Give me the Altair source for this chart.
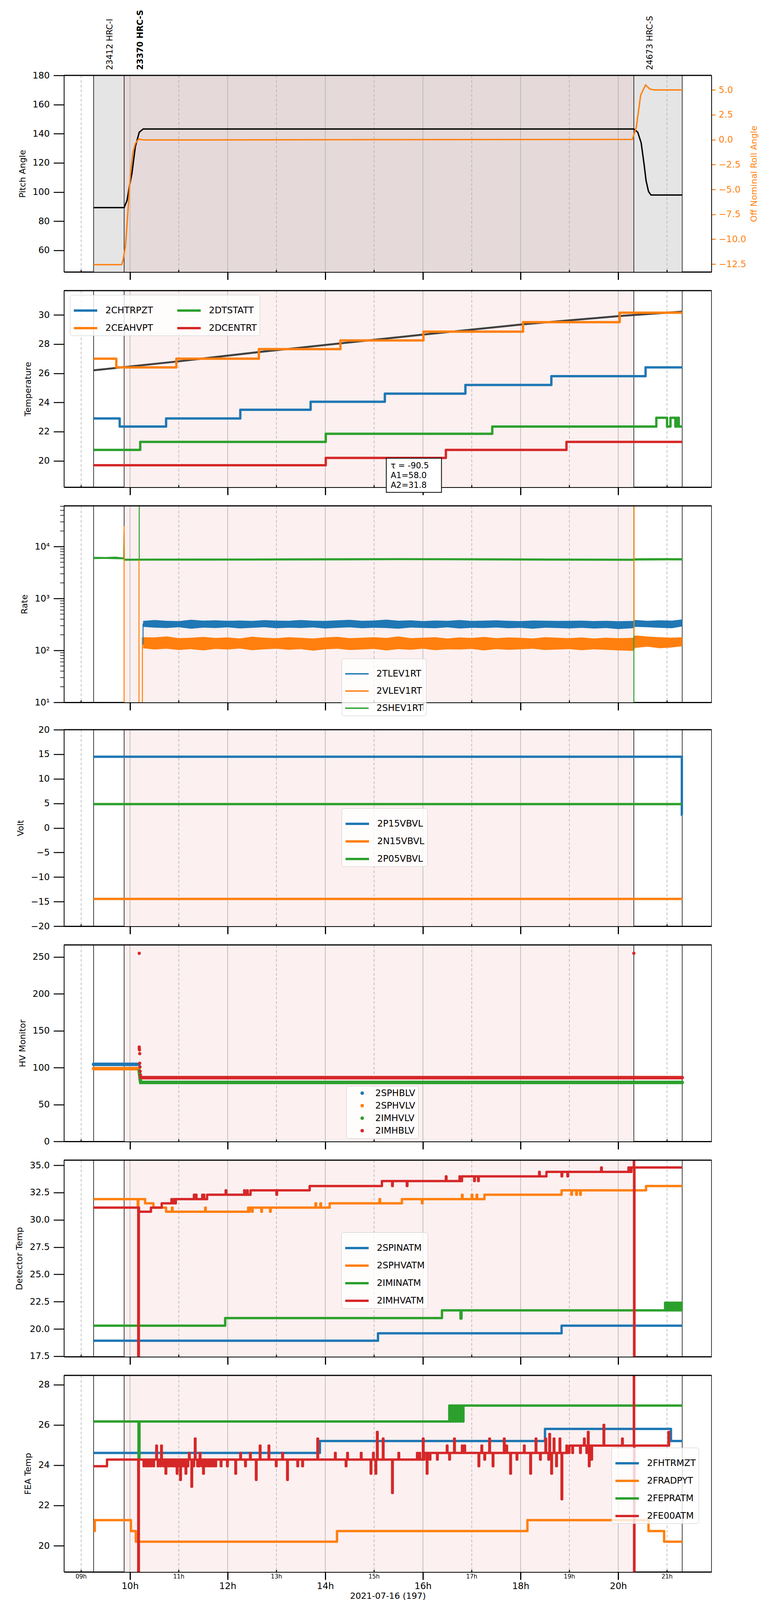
import altair as alt
import pandas as pd

# ------------------------------------------------------------------ data
x_domain = [8.65, 21.91]
major_hours = [10, 12, 14, 16, 18, 20]
minor_hours = [9, 11, 13, 15, 17, 19, 21]
date_label = "2021-07-16 (197)"

obs_start = [9.255, 9.88, 20.32]
obs_stop = [9.88, 20.32, 21.31]
obs_name = ["23412 HRC-I", "23370 HRC-S", "24673 HRC-S"]
obs_bold = [False, True, False]
obs_shade = ["#e5e5e5", "#e5d9d9", "#e5e5e5"]

# panel 1 : attitude
pitch_t = [9.255, 9.88, 9.94, 9.99, 10.04, 10.11, 10.19, 10.27, 20.32, 20.40, 20.47, 20.53, 20.57, 20.62, 20.67, 21.31]
pitch_v = [89.3, 89.3, 94.2, 104.0, 112.7, 131.0, 141.0, 143.2, 143.2, 141.0, 133.7, 118.9, 107.8, 100.4, 97.9, 97.9]
roll_t = [9.255, 9.83, 9.86, 9.91, 9.96, 10.01, 10.06, 10.11, 10.18, 10.27, 15.0, 20.29, 20.37, 20.46, 20.56, 20.65, 20.74, 21.31]
roll_v = [-12.55, -12.55, -12.06, -10.6, -7.1, -3.5, -1.3, -0.38, 0.07, -0.03, 0.0, 0.03, 1.25, 4.48, 5.5, 5.08, 5.0, 5.0]

# panel 2 : temperatures
t_chtrpzt = [9.255, 9.79, 10.74, 12.26, 13.70, 15.22, 16.87, 18.63, 20.56, 21.31]
v_chtrpzt = [22.9, 22.35, 22.9, 23.5, 24.05, 24.6, 25.2, 25.8, 26.4, 26.4]
t_ceahvpt = [9.255, 9.72, 10.95, 12.64, 14.31, 16.01, 18.05, 20.03, 21.31]
v_ceahvpt = [27.0, 26.4, 27.0, 27.65, 28.25, 28.85, 29.5, 30.15, 30.15]
t_dtstatt = [9.255, 10.21, 14.01, 17.42, 20.78, 21.0, 21.07, 21.17, 21.2, 21.24, 21.31]
v_dtstatt = [20.75, 21.3, 21.85, 22.35, 22.95, 22.35, 22.95, 22.35, 22.95, 22.35, 22.35]
t_dcentrt = [9.255, 14.01, 16.47, 18.94, 21.31]
v_dcentrt = [19.7, 20.2, 20.75, 21.3, 21.3]
fit_t = [9.255, 10.95, 12.64, 14.31, 16.01, 18.05, 20.03, 21.31]
fit_v = [26.2, 26.8, 27.45, 28.05, 28.65, 29.35, 29.92, 30.22]
fit_text = "\u03c4 = -90.5\nA1=58.0\nA2=31.8"
fit_box_x = [15.25, 16.38]
fit_box_y = [20.18, 17.84]
fit_text_pos = [15.34, 19.95]

# panel 3 : rates (noise envelopes)
rate_t = [10.27, 10.5, 10.75, 11.0, 11.25, 11.5, 11.75, 12.0, 12.25, 12.5, 12.75, 13.0, 13.25, 13.5, 13.75, 14.0,
          14.25, 14.5, 14.75, 15.0, 15.25, 15.5, 15.75, 16.0, 16.25, 16.5, 16.75, 17.0, 17.25, 17.5, 17.75, 18.0,
          18.25, 18.5, 18.75, 19.0, 19.25, 19.5, 19.75, 20.0, 20.3, 20.35, 20.6, 20.85, 21.1, 21.31]
tlev_lo = [285, 275, 270, 280, 262, 275, 270, 278, 266, 272, 280, 268, 274, 270, 277, 265, 272, 279, 268, 274, 270,
           262, 276, 271, 268, 279, 264, 272, 270, 276, 268, 273, 262, 274, 270, 266, 272, 264, 270, 258, 268, 285,
           280, 272, 268, 290]
tlev_hi = [370, 385, 372, 368, 390, 375, 380, 372, 378, 370, 384, 376, 372, 386, 374, 370, 380, 388, 372, 378, 392,
           374, 380, 368, 378, 372, 386, 370, 376, 380, 372, 368, 378, 374, 370, 372, 376, 368, 372, 366, 370, 385,
           372, 380, 376, 395]
vlev_lo = [110, 104, 108, 102, 106, 100, 107, 104, 109, 101, 105, 108, 103, 106, 99, 105, 108, 102, 104, 107, 100,
           106, 103, 108, 101, 105, 104, 107, 100, 106, 103, 105, 108, 102, 104, 106, 101, 105, 103, 100, 98, 112,
           118, 110, 114, 120]
vlev_hi = [180, 178, 186, 172, 176, 182, 174, 178, 170, 184, 176, 172, 180, 175, 170, 178, 183, 172, 176, 180, 174,
           186, 172, 176, 180, 170, 178, 174, 182, 172, 178, 175, 170, 180, 176, 172, 178, 170, 176, 172, 175, 195,
           185, 180, 176, 180]
shev_t = [9.255, 9.5, 9.7, 9.87, 9.89, 10.5, 11.5, 12.5, 13.5, 14.5, 15.5, 16.5, 17.5, 18.5, 19.5, 20.3, 20.34, 21.0, 21.31]
shev_lo = [5750, 5800, 5720, 5700, 5350, 5380, 5360, 5400, 5420, 5450, 5480, 5460, 5420, 5380, 5350, 5320, 5400, 5450, 5420]
shev_hi = [6350, 6300, 6400, 6200, 5850, 5880, 5900, 5900, 5950, 5980, 6000, 5980, 5950, 5900, 5880, 5850, 5950, 6000, 5980]
rate_spike_series = ["2SHEV1RT"] * 7 + ["2VLEV1RT"] * 8 + ["2TLEV1RT"] * 2
rate_spike_seg = [1, 1, 1, 2, 2, 3, 3, 4, 4, 5, 5, 6, 6, 7, 7, 8, 8]
rate_spike_t = [9.87, 9.88, 9.885, 10.19, 10.19, 20.32, 20.32, 9.88, 9.88, 10.185, 10.185, 10.255, 10.255,
                20.323, 20.323, 10.268, 10.268]
rate_spike_v = [5900, 20000, 5600, 5600, 1e6, 1, 1e6, 1, 25000, 1, 5600, 1, 180, 200, 1e6, 130, 330]
rate_minor = [20, 30, 40, 50, 60, 70, 80, 90, 200, 300, 400, 500, 600, 700, 800, 900,
              2000, 3000, 4000, 5000, 6000, 7000, 8000, 9000, 20000, 30000, 40000, 50000, 60000]

# panel 4 : voltages
t_p15 = [9.255, 21.303, 21.31]
v_p15 = [14.5, 2.7, 2.7]
t_n15 = [9.255, 21.31]
v_n15 = [-14.45, -14.45]
t_p05 = [9.255, 21.31]
v_p05 = [4.85, 4.85]

# panel 5 : HV monitors
t_sphblv = [9.255, 10.18]
v_sphblv = [104.5, 104.5]
t_sphvlv = [9.255, 10.18]
v_sphvlv = [98.7, 98.7]
t_imhvlv = [10.19, 10.2, 10.21, 10.22, 21.31]
v_imhvlv = [96, 90, 84, 80, 80]
t_imhblv = [10.22, 21.31]
v_imhblv = [86.5, 86.5]
t_imhblv_out = [10.19, 10.19, 10.19, 10.195, 10.2, 10.2, 10.205, 10.21, 10.215, 20.32]
v_imhblv_out = [255, 128, 126, 124, 119, 106, 101, 95, 90, 255]

# panel 6 : detector temps (base levels + short excursions)
t_spinatm = [9.255, 15.08, 18.84, 21.31]
v_spinatm = [18.92, 19.6, 20.3, 20.3]
t_sphvatm = [9.255, 10.31, 10.48, 10.74, 12.42, 14.09, 15.57, 17.26, 18.84, 20.57, 21.31]
v_sphvatm = [31.9, 31.51, 31.12, 30.74, 31.12, 31.51, 31.9, 32.3, 32.7, 33.1, 33.1]
sp_t_sphvatm = [10.16, 10.86, 11.54, 12.44, 12.5, 12.69, 12.87, 13.8, 13.9, 15.11, 15.98, 16.8, 17.0, 17.1, 19.04, 19.14, 19.22]
sp_v_sphvatm = [31.12, 31.12, 31.12, 30.74, 30.74, 30.74, 30.74, 31.51, 31.51, 31.9, 31.51, 32.3, 32.3, 32.3, 32.3, 32.3, 32.3]
t_iminatm = [9.255, 11.95, 16.39, 21.31]
v_iminatm = [20.3, 21.0, 21.7, 21.7]
sp_t_iminatm = [16.77, 20.96, 21.0, 21.04, 21.08, 21.12, 21.16, 21.2, 21.24, 21.28]
sp_v_iminatm = [20.95, 22.4, 22.4, 22.4, 22.4, 22.4, 22.4, 22.4, 22.4, 22.4]
t_imhvatm = [9.255, 10.185, 10.43, 10.65, 10.94, 11.58, 12.47, 13.68, 15.16, 16.8, 18.53, 20.27, 21.31]
v_imhvatm = [31.12, 30.74, 31.12, 31.51, 31.9, 32.3, 32.7, 33.1, 33.55, 33.98, 34.4, 34.8, 34.8]
sp_t_imhvatm = [10.17, 10.85, 10.9, 11.31, 11.35, 11.48, 11.51, 11.96, 12.34, 12.4, 13.0, 15.37, 15.67, 16.47,
                16.75, 17.05, 17.13, 18.38, 18.84, 18.96, 19.65, 20.21, 20.24, 20.32, 20.325]
sp_v_imhvatm = [10, 31.9, 31.9, 32.3, 32.3, 32.3, 32.3, 32.7, 32.7, 32.7, 32.3, 33.1, 33.1, 33.98, 33.98, 33.55,
                33.55, 34.4, 33.98, 33.98, 34.8, 34.8, 34.8, 40, 10]

# panel 7 : FEA temps
t_fhtrmzt = [9.255, 13.89, 18.5, 21.08, 21.31]
v_fhtrmzt = [24.61, 25.2, 25.8, 25.2, 25.2]
t_fradpyt = [9.255, 9.28, 10.02, 10.12, 14.24, 18.14, 20.62, 20.94, 21.31]
v_fradpyt = [20.73, 21.27, 20.73, 20.2, 20.73, 21.27, 20.73, 20.2, 20.2]
t_fepratm = [9.255, 16.54, 16.85, 21.31]
v_fepratm = [26.17, 26.96, 26.96, 26.96]
sp_t_fepratm = [10.175, 16.56, 16.61, 16.66, 16.71, 16.76, 16.81]
sp_v_fepratm = [24.3, 26.17, 26.17, 26.17, 26.17, 26.17, 26.17]
t_fe00atm = [9.255, 9.53, 16.03, 19.0, 21.06]
v_fe00atm = [23.95, 24.28, 24.61, 24.97, 24.97]
sp_t_fe00atm = [10.17, 10.28, 10.33, 10.38, 10.43, 10.48, 10.57, 10.62, 10.68, 10.78, 10.83, 10.88, 10.92, 11.0,
                11.07, 11.11, 11.18, 11.3, 11.38, 11.41, 11.47, 11.55, 11.6, 11.65, 11.7, 11.75,
                10.54, 10.64, 10.73, 10.96, 11.03, 11.14, 11.21, 11.26, 11.33, 11.43, 11.5,
                11.86, 11.99, 12.16, 12.26, 12.36, 12.46, 12.58, 12.66, 12.84, 12.99, 13.12, 13.22, 13.43, 13.53,
                13.84, 14.2, 14.42, 14.45, 14.73, 14.93, 14.98, 15.03, 15.06, 15.18, 15.37, 15.5, 15.88, 15.93, 16.0,
                16.08, 16.14, 16.29, 16.49, 16.54, 16.64, 16.8, 16.85, 17.14, 17.2, 17.26, 17.36, 17.43, 17.66,
                17.71, 17.79, 17.92, 18.07, 18.2, 18.31, 18.4, 18.51, 18.57, 18.59, 18.63, 18.68, 18.73, 18.8,
                18.84, 18.94, 19.06, 19.22, 19.3, 19.35, 19.38, 19.4, 19.45, 19.7, 20.08, 20.32, 20.325, 21.03]
sp_v_fe00atm = [18.0] + [23.95] * 25 + \
               [24.97, 24.97, 23.58, 23.58, 23.27, 23.58, 24.61, 22.93, 25.32, 24.61, 23.58,
                23.95, 23.95, 23.58, 24.61, 23.95, 24.61, 23.27, 24.97, 24.97, 23.95, 24.61, 23.27, 23.95, 23.95,
                25.32, 24.61, 23.95, 24.61, 24.61, 23.58, 24.61, 23.58, 25.65, 25.32, 22.62, 24.61, 24.61, 24.61, 25.32,
                23.58, 24.28, 24.28, 24.97, 24.28, 25.32, 24.97, 24.97, 23.95, 24.97, 24.28, 25.32, 23.95, 25.32,
                24.97, 23.58, 24.28, 24.97, 23.58, 25.32, 24.28, 25.32, 24.28, 25.55, 23.58, 25.32, 23.95, 25.32,
                22.31, 24.97, 24.61, 24.61, 25.32, 24.61, 25.65, 23.95, 24.28, 26.0, 25.32, 29.0, 18.0, 25.65]

# ------------------------------------------------------------------ style
# the photographed page is ~4096 px tall, so the vertical layout is compressed to fit it
W, H = 1658, 503
FONT = "DejaVu Sans"
FS = 23          # tick / legend text
FT = 22          # axis titles
C_BLUE, C_ORANGE, C_GREEN, C_RED = "#1f77b4", "#ff7f0e", "#2ca02c", "#d62728"
PINK = "#fcf0f0"
GRID = "#b0b0b0"
LW = 6
X_SCALE = alt.Scale(domain=x_domain, nice=False, zero=False)


def x_axis(bottom):
    kw = dict(values=major_hours, tickSize=20, tickWidth=3, tickColor="black", domainWidth=3,
              domainColor="black", grid=False, labels=bottom)
    if bottom:
        kw.update(title=date_label, labelFontSize=FS, labelPadding=5, labelExpr="datum.value + 'h'",
                  labelColor="black", titleFontSize=FT, titleFontWeight="normal", titlePadding=3,
                  titleColor="black", labelFont=FONT, titleFont=FONT)
    else:
        kw.update(title=None)
    return alt.Axis(**kw)


def make_X(bottom):
    ax = x_axis(bottom)

    def X(field):
        return alt.X(f"{field}:Q", scale=X_SCALE, axis=ax)
    return X


def make_Y(domain, values, title, log=False, fmt=None, label_expr=None):
    if log:
        sc = alt.Scale(domain=domain, nice=False, type="log")
    else:
        sc = alt.Scale(domain=domain, nice=False, zero=False)
    kw = dict(title=title, values=values, tickSize=27, tickWidth=2.5, tickColor="black", labelFontSize=FS,
              labelPadding=10, labelColor="black", domainWidth=1.5, domainColor="black", grid=False,
              titleFontSize=FT, titleFontWeight="normal", titlePadding=14, titleColor="black",
              labelFont=FONT, titleFont=FONT)
    if fmt:
        kw["format"] = fmt
    if label_expr:
        kw["labelExpr"] = label_expr
    ax = alt.Axis(**kw)

    def Y(field):
        return alt.Y(f"{field}:Q", scale=sc, axis=ax)
    return Y


def legend(x, y, sym="stroke", sw=6, size=3600, columns=None, row_pad=-28, sym_off=0, lab_off=18):
    kw = dict(orient="none", legendX=x, legendY=y, title=None, labelFontSize=FS, labelFont=FONT,
              labelColor="black", labelLimit=400, symbolType=sym, symbolSize=size, symbolStrokeWidth=sw,
              fillColor="rgba(255,255,255,0.8)", strokeColor="#cccccc", cornerRadius=5, padding=7,
              rowPadding=row_pad, labelOffset=lab_off, symbolOffset=sym_off)
    if columns:
        kw["columns"] = columns
        kw["columnPadding"] = 50
    return alt.Legend(**kw)


def step_df(names, ts, vs):
    rows = []
    for n, tt, vv in zip(names, ts, vs):
        for i, (t, v) in enumerate(zip(tt, vv)):
            rows.append({"series": n, "t": t, "v": v, "i": i})
    return pd.DataFrame(rows)


def with_spikes(base_t, base_v, sp_t, sp_v, width=0.012):
    def base_at(t):
        val = base_v[0]
        for bt, bv in zip(base_t, base_v):
            if bt <= t:
                val = bv
        return val
    pts = list(zip(base_t, base_v))
    for t, v in zip(sp_t, sp_v):
        pts.append((t, v))
        pts.append((t + width, base_at(t)))
    pts.sort(key=lambda p: p[0])
    return [p[0] for p in pts], [p[1] for p in pts]


obs_df = pd.DataFrame({"start": obs_start, "stop": obs_stop, "name": obs_name,
                       "bold": obs_bold, "shade": obs_shade})
edge_df = pd.DataFrame({"h": sorted(set(obs_start + obs_stop))})
major_df = pd.DataFrame({"h": major_hours})
minor_df = pd.DataFrame({"h": minor_hours})


def background(X, top_panel=False):
    if top_panel:
        shade = alt.Chart(obs_df).mark_rect().encode(x=X("start"), x2="stop",
                                                     fill=alt.Fill("shade:N", scale=None))
    else:
        shade = alt.Chart(obs_df[obs_df["bold"]]).mark_rect(color=PINK).encode(x=X("start"), x2="stop")
    g1 = alt.Chart(major_df).mark_rule(color=GRID, strokeWidth=1.5).encode(x=X("h"))
    g2 = alt.Chart(minor_df).mark_rule(color=GRID, strokeWidth=1.5, strokeDash=[7, 5]).encode(x=X("h"))
    edges = alt.Chart(edge_df).mark_rule(color="black", strokeWidth=1.5).encode(x=X("h"))
    return [shade, g1, g2, edges]


def front(X, bottom=False):
    top = alt.Chart(pd.DataFrame({"a": [0]})).mark_rule(color="black", strokeWidth=3).encode(
        x=alt.value(0), x2=alt.value(W), y=alt.value(0))
    mt = alt.Chart(minor_df).mark_rule(color="black", strokeWidth=2.5).encode(
        x=X("h"), y=alt.value(H - 5), y2=alt.value(H))
    out = [top, mt]
    if bottom:
        ml = alt.Chart(minor_df).transform_calculate(
            lab="(datum.h < 10 ? '0' : '') + datum.h + 'h'"
        ).mark_text(fontSize=15, baseline="top", font=FONT, color="black").encode(
            x=X("h"), y=alt.value(H + 5), text="lab:N")
        out.append(ml)
    return out


def panel(layers, X, bottom=False, top_panel=False, resolve_y=False):
    ch = alt.layer(*background(X, top_panel), *layers, *front(X, bottom)).properties(width=W, height=H)
    if resolve_y:
        ch = ch.resolve_scale(y="independent")
    return ch


MINUS = "replace(datum.label, '-', '\u2212')"

# ------------------------------------------------------------------ panel 1
X1 = make_X(False)
Yp = make_Y([45.2, 180], [60, 80, 100, 120, 140, 160, 180], "Pitch Angle")
roll_scale = alt.Scale(domain=[-13.28, 6.46], nice=False, zero=False)
roll_axis = alt.Axis(orient="right", title="Off Nominal Roll Angle", values=[-12.5, -10, -7.5, -5, -2.5, 0, 2.5, 5],
                     format=".1f", labelExpr=MINUS, tickSize=10, tickWidth=2.5, tickColor=C_ORANGE,
                     labelColor=C_ORANGE, labelFontSize=FS, labelPadding=8, titleColor=C_ORANGE,
                     titleFontSize=FT, titleFontWeight="normal", titleAngle=270, titleBaseline="top",
                     titlePadding=10, domainColor="black", domainWidth=1.5, grid=False,
                     labelFont=FONT, titleFont=FONT)
pitch_line = alt.Chart(pd.DataFrame({"t": pitch_t, "v": pitch_v})).mark_line(
    color="black", strokeWidth=3.5, clip=True).encode(x=X1("t"), y=Yp("v"))
roll_line = alt.Chart(pd.DataFrame({"t": roll_t, "r": roll_v})).mark_line(
    color=C_ORANGE, strokeWidth=3.5, clip=True).encode(x=X1("t"), y=alt.Y("r:Q", scale=roll_scale, axis=roll_axis))
lab_base = alt.Chart(obs_df).transform_calculate(lx="datum.start + 0.335")
lab_norm = lab_base.transform_filter("!datum.bold").mark_text(
    angle=270, align="left", baseline="middle", fontSize=21, font=FONT, color="black").encode(
    x=X1("lx"), y=alt.value(-14), text="name:N")
lab_bold = lab_base.transform_filter("datum.bold").mark_text(
    angle=270, align="left", baseline="middle", fontSize=21, font=FONT, fontWeight="bold", color="black").encode(
    x=X1("lx"), y=alt.value(-14), text="name:N")
p1 = panel([pitch_line, roll_line, lab_norm, lab_bold], X1, top_panel=True, resolve_y=True)

# ------------------------------------------------------------------ panel 2
X2 = make_X(False)
Y2 = make_Y([18.2, 31.66], [20, 22, 24, 26, 28, 30], "Temperature")
temp_names = ["2CHTRPZT", "2CEAHVPT", "2DTSTATT", "2DCENTRT"]
temp_df = step_df(temp_names, [t_chtrpzt, t_ceahvpt, t_dtstatt, t_dcentrt],
                  [v_chtrpzt, v_ceahvpt, v_dtstatt, v_dcentrt])
fit_line = alt.Chart(pd.DataFrame({"t": fit_t, "v": fit_v})).mark_line(
    color="#404040", strokeWidth=5).encode(x=X2("t"), y=Y2("v"))
temp_lines = alt.Chart(temp_df).mark_line(
    interpolate="step-after", strokeWidth=LW, strokeJoin="round", clip=True).encode(
    x=X2("t"), y=Y2("v"), order="i:Q",
    stroke=alt.Stroke("series:N", scale=alt.Scale(domain=temp_names, range=[C_BLUE, C_ORANGE, C_GREEN, C_RED]),
                      legend=legend(15, 11, columns=2)))
box = alt.Chart(pd.DataFrame({"x0": [fit_box_x[0]], "x1": [fit_box_x[1]], "y0": [fit_box_y[0]],
                              "y1": [fit_box_y[1]]})).mark_rect(
    fill="white", stroke="black", strokeWidth=2).encode(x=X2("x0"), x2="x1", y=Y2("y0"), y2="y1")
box_text = alt.Chart(pd.DataFrame({"x": [fit_text_pos[0]], "y": [fit_text_pos[1]], "s": [fit_text]})).mark_text(
    align="left", baseline="top", fontSize=21, font=FONT, lineBreak="\n", lineHeight=25, color="black").encode(
    x=X2("x"), y=Y2("y"), text="s:N")
p2 = panel([fit_line, temp_lines, box, box_text], X2)

# ------------------------------------------------------------------ panel 3
X3 = make_X(False)
Y3 = make_Y([10, 61000], [10, 100, 1000, 10000], "Rate", log=True,
            label_expr="'10' + ['\u2070','\u00b9','\u00b2','\u00b3','\u2074','\u2075'][round(log(datum.value)/LN10)]")
rate_names = ["2TLEV1RT", "2VLEV1RT", "2SHEV1RT"]
rate_colors = [C_BLUE, C_ORANGE, C_GREEN]
band_rows = []
for t, lo, hi in zip(shev_t, shev_lo, shev_hi):
    band_rows.append({"band": "2SHEV1RT", "t": t, "lo": lo, "hi": hi})
for t, lo, hi in zip(rate_t, vlev_lo, vlev_hi):
    band_rows.append({"band": "2VLEV1RT", "t": t, "lo": lo, "hi": hi})
for t, lo, hi in zip(rate_t, tlev_lo, tlev_hi):
    band_rows.append({"band": "2TLEV1RT", "t": t, "lo": lo, "hi": hi})
bands = alt.Chart(pd.DataFrame(band_rows)).mark_area(clip=True).encode(
    x=X3("t"), y=Y3("lo"), y2="hi",
    fill=alt.Fill("band:N", scale=alt.Scale(domain=rate_names[::-1], range=rate_colors[::-1]), legend=None))
spike_df = pd.DataFrame({"series": rate_spike_series, "seg": rate_spike_seg, "t": rate_spike_t,
                         "v": rate_spike_v, "i": list(range(len(rate_spike_t)))})
spikes = alt.Chart(spike_df).mark_line(strokeWidth=2.5, clip=True).encode(
    x=X3("t"), y=Y3("v"), detail="seg:N", order="i:Q",
    stroke=alt.Stroke("series:N", scale=alt.Scale(domain=rate_names, range=rate_colors),
                      legend=legend(711, 391, sw=3.5)))
rate_minor_ticks = alt.Chart(pd.DataFrame({"v": rate_minor})).mark_rule(color="black", strokeWidth=1.5).encode(
    y=Y3("v"), x=alt.value(-10), x2=alt.value(0))
p3 = panel([bands, spikes, rate_minor_ticks], X3)

# ------------------------------------------------------------------ panel 4
X4 = make_X(False)
Y4 = make_Y([-20, 20], [-20, -15, -10, -5, 0, 5, 10, 15, 20], "Volt", label_expr=MINUS)
volt_names = ["2P15VBVL", "2N15VBVL", "2P05VBVL"]
volt_df = step_df(volt_names, [t_p15, t_n15, t_p05], [v_p15, v_n15, v_p05])
volt_lines = alt.Chart(volt_df).mark_line(interpolate="step-after", strokeWidth=LW, clip=True).encode(
    x=X4("t"), y=Y4("v"), order="i:Q",
    stroke=alt.Stroke("series:N", scale=alt.Scale(domain=volt_names, range=[C_BLUE, C_ORANGE, C_GREEN]),
                      legend=legend(711, 201)))
p4 = panel([volt_lines], X4)

# ------------------------------------------------------------------ panel 5
X5 = make_X(False)
Y5 = make_Y([0, 266.4], [0, 50, 100, 150, 200, 250], "HV Monitor")
hv_names = ["2SPHBLV", "2SPHVLV", "2IMHVLV", "2IMHBLV"]
hv_colors = [C_BLUE, C_ORANGE, C_GREEN, C_RED]
hv_df = step_df(hv_names, [t_sphblv, t_sphvlv, t_imhvlv, t_imhblv], [v_sphblv, v_sphvlv, v_imhvlv, v_imhblv])
hv_pts = pd.concat([hv_df, pd.DataFrame({"series": "2IMHBLV", "t": t_imhblv_out, "v": v_imhblv_out,
                                         "i": list(range(len(t_imhblv_out)))})])
hv_pts = hv_pts.rename(columns={"series": "msid"})
hv_lines = alt.Chart(hv_df).mark_line(strokeWidth=9, strokeCap="round", clip=True).encode(
    x=X5("t"), y=Y5("v"), order="i:Q",
    stroke=alt.Stroke("series:N", scale=alt.Scale(domain=hv_names[::-1], range=hv_colors[::-1]), legend=None))
hv_dots = alt.Chart(hv_pts).mark_circle(size=70, opacity=1, clip=True).encode(
    x=X5("t"), y=Y5("v"),
    fill=alt.Fill("msid:N", scale=alt.Scale(domain=hv_names, range=hv_colors),
                  legend=legend(723, 361, sym="circle", sw=0, size=80, row_pad=8, sym_off=22, lab_off=22)))
p5 = panel([hv_lines, hv_dots], X5)

# ------------------------------------------------------------------ panel 6
X6 = make_X(False)
Y6 = make_Y([17.46, 35.47], [17.5, 20, 22.5, 25, 27.5, 30, 32.5, 35], "Detector Temp", fmt=".1f")
det_names = ["2SPINATM", "2SPHVATM", "2IMINATM", "2IMHVATM"]
sph_t, sph_v = with_spikes(t_sphvatm, v_sphvatm, sp_t_sphvatm, sp_v_sphvatm)
imi_t, imi_v = with_spikes(t_iminatm, v_iminatm, sp_t_iminatm, sp_v_iminatm, width=0.02)
imh_t, imh_v = with_spikes(t_imhvatm, v_imhvatm, sp_t_imhvatm, sp_v_imhvatm)
det_df = step_df(det_names, [t_spinatm, sph_t, imi_t, imh_t], [v_spinatm, sph_v, imi_v, imh_v])
det_lines = alt.Chart(det_df).mark_line(interpolate="step-after", strokeWidth=LW, strokeJoin="round", clip=True).encode(
    x=X6("t"), y=Y6("v"), order="i:Q",
    stroke=alt.Stroke("series:N", scale=alt.Scale(domain=det_names, range=[C_BLUE, C_ORANGE, C_GREEN, C_RED]),
                      legend=legend(710, 185)))
p6 = panel([det_lines], X6)

# ------------------------------------------------------------------ panel 7
X7 = make_X(True)
Y7 = make_Y([18.7, 28.46], [20, 22, 24, 26, 28], "FEA Temp")
fea_names = ["2FHTRMZT", "2FRADPYT", "2FEPRATM", "2FE00ATM"]
fep_t, fep_v = with_spikes(t_fepratm, v_fepratm, sp_t_fepratm, sp_v_fepratm, width=0.02)
fe0_t, fe0_v = with_spikes(t_fe00atm, v_fe00atm, sp_t_fe00atm, sp_v_fe00atm)
fea_df = step_df(fea_names, [t_fhtrmzt, t_fradpyt, fep_t, fe0_t], [v_fhtrmzt, v_fradpyt, fep_v, fe0_v])
fea_lines = alt.Chart(fea_df).mark_line(interpolate="step-after", strokeWidth=LW, strokeJoin="round", clip=True).encode(
    x=X7("t"), y=Y7("v"), order="i:Q",
    stroke=alt.Stroke("series:N", scale=alt.Scale(domain=fea_names, range=[C_BLUE, C_ORANGE, C_GREEN, C_RED]),
                      legend=legend(1402, 185)))
p7 = panel([fea_lines], X7, bottom=True)

chart = alt.vconcat(p1, p2, p3, p4, p5, p6, p7, spacing=22).resolve_scale(
    stroke="independent", fill="independent", color="independent"
).properties(
    padding={"left": 30, "top": 16, "right": 5, "bottom": 0}
).configure(font=FONT).configure_view(stroke="black", strokeWidth=1.5)

chart.save("out.html", embed_options={"renderer": "svg", "actions": False})
